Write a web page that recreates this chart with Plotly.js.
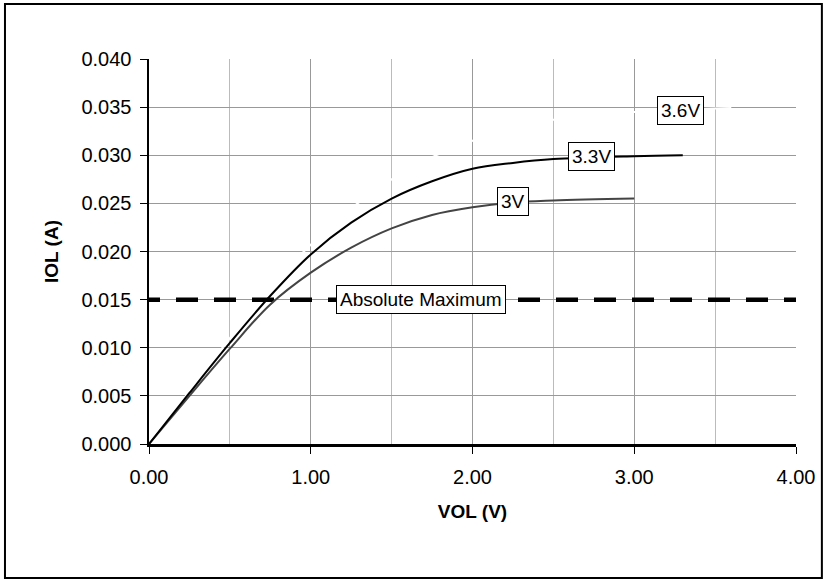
<!DOCTYPE html>
<html>
<head>
<meta charset="utf-8">
<script src="https://cdn.plot.ly/plotly-3.0.1.min.js"></script>
<style>
html,body{margin:0;padding:0;background:#fff;}
#chart{width:827px;height:581px;}
</style>
</head>
<body>
<div id="chart"></div>
<script>
// VOL (V) vs IOL (A)
const x33 = [0, 0.25, 0.5, 0.75, 1.0, 1.25, 1.5, 1.75, 2.0, 2.25, 2.5, 3.0, 3.3];
const y33 = [0, 0.0053, 0.0105, 0.0154, 0.0197, 0.0230, 0.0255, 0.0273, 0.0286, 0.0292, 0.0296, 0.0299, 0.0300];
const x30 = [0, 0.25, 0.5, 0.75, 1.0, 1.25, 1.5, 1.75, 2.0, 2.25, 2.5, 3.0];
const y30 = [0, 0.0050, 0.0099, 0.0145, 0.0178, 0.0204, 0.0224, 0.0238, 0.0246, 0.0251, 0.0253, 0.0255];
const x36 = [0, 0.25, 0.5, 0.75, 1.0, 1.25, 1.5, 1.75, 2.0, 2.25, 2.5, 3.0, 3.6];
const y36 = [0, 0.0055, 0.0110, 0.0163, 0.0207, 0.0245, 0.0275, 0.0298, 0.0315, 0.0328, 0.0337, 0.0345, 0.0349];
const xMax = [-0.068, 4];
const yMax = [0.015, 0.015];
const labels = [
  {text: '3.6V', x: 3.283, y: 0.03467},
  {text: '3.3V', x: 2.736, y: 0.02983},
  {text: '3V', x: 2.250, y: 0.02516},
  {text: 'Absolute Maximum', x: 1.679, y: 0.01502}
];

const F = 'Liberation Sans, Arial, sans-serif';
const traces = [
  {x: x36, y: y36, mode: 'lines', line: {color: '#ffffff', width: 2, shape: 'spline'}, name: '3.6V'},
  {x: xMax, y: yMax, mode: 'lines', line: {color: '#000000', width: 4.5, dash: '22px,16px'}, name: 'Absolute Maximum'},
  {x: x30, y: y30, mode: 'lines', line: {color: '#444444', width: 2, shape: 'spline'}, name: '3V'},
  {x: x33, y: y33, mode: 'lines', line: {color: '#000000', width: 2, shape: 'spline'}, name: '3.3V'}
];

const layout = {
  width: 827, height: 581,
  margin: {l: 149, r: 31, t: 59, b: 137},
  paper_bgcolor: '#fff', plot_bgcolor: '#fff',
  showlegend: false,
  font: {family: F, size: 18, color: '#000'},
  xaxis: {
    range: [0, 4], dtick: 1, tick0: 0, tickformat: '.2f',
    showgrid: true, gridcolor: '#999', gridwidth: 1,
    minor: {dtick: 0.5, showgrid: true, gridcolor: '#bbb', gridwidth: 1, ticks: ''},
    showline: true, linecolor: '#000', linewidth: 2.5,
    ticks: 'outside', ticklen: 7, tickcolor: '#000', tickwidth: 1,
    ticklabelstandoff: 6,
    zeroline: false, tickfont: {family: F, size: 20},
    title: {text: '<b>VOL (V)</b>', font: {family: F, size: 19}, standoff: 18}
  },
  yaxis: {
    range: [0, 0.04], dtick: 0.005, tick0: 0, tickformat: '.3f',
    showgrid: true, gridcolor: '#999', gridwidth: 1,
    showline: true, linecolor: '#000', linewidth: 2.5,
    ticks: 'outside', ticklen: 7, tickcolor: '#000', tickwidth: 1,
    ticklabelstandoff: 4,
    zeroline: false, tickfont: {family: F, size: 20},
    title: {text: '<b>IOL (A)</b>', font: {family: F, size: 19}, standoff: 18}
  },
  annotations: labels.map(l => ({
    x: l.x, y: l.y, xref: 'x', yref: 'y', text: l.text, showarrow: false,
    font: {family: F, size: 19, color: '#000'},
    bgcolor: '#fff', bordercolor: '#000', borderwidth: 1, borderpad: 3
  })),
  shapes: [{
    type: 'rect', xref: 'paper', yref: 'paper',
    x0: -0.2226, x1: 1.040, y0: -0.348, y1: 1.143,
    line: {color: '#000', width: 2}, fillcolor: 'rgba(0,0,0,0)', layer: 'below'
  }]
};

Plotly.newPlot('chart', traces, layout, {displayModeBar: false, staticPlot: true});
</script>
</body>
</html>
